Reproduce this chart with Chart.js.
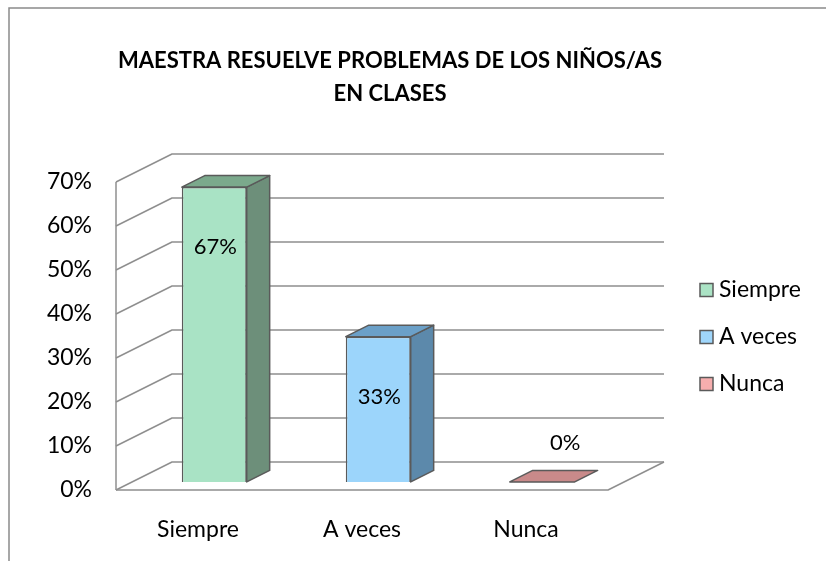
<!DOCTYPE html>
<html>
<head>
<meta charset="utf-8">
<script src="https://cdn.jsdelivr.net/npm/chart.js@4"></script>
<style>
html, body { margin: 0; padding: 0; background: #fff; }
</style>
</head>
<body>
<canvas id="chart" width="826" height="561"></canvas>
<script>
// data
const titleLines = ['MAESTRA RESUELVE PROBLEMAS DE LOS NIÑOS/AS', 'EN CLASES'];
const categories = ['Siempre', 'A veces', 'Nunca'];
const values = [67, 33, 0];
const yMax = 70;
const yStep = 10;

// colours per category
const frontColors = ['#a9e3c5', '#9cd5fb', '#d99a9a'];
const sideColors = ['#6d8f7a', '#5c89ab', '#b07474'];
const topColors = ['#7ba98c', '#6ba0c8', '#c98a8a'];
const legendColors = ['#abe3c5', '#9fd6fb', '#f6aeae'];

const FONT = 'Lato, "Open Sans", sans-serif';
const wall = { dx: 56, dy: -28 };      // depth of the floor / back wall
const barFront = 0.29;                 // bar front face position in depth
const barDepth = 0.41;                 // bar thickness in depth
const edge = '#5a5a5a';
const gridColor = '#8f8f8f';

const threeD = {
    id: 'threeD',
    beforeDraw(chart) {
        const ctx = chart.ctx;
        ctx.save();
        ctx.fillStyle = '#fff';
        ctx.fillRect(0, 0, chart.width, chart.height);
        // outer frame
        ctx.strokeStyle = '#8a8a8a';
        ctx.lineWidth = 1.5;
        ctx.strokeRect(9, 8, 1000, 1000);
        // title
        ctx.fillStyle = '#000';
        ctx.font = 'bold 22px ' + FONT;
        ctx.textAlign = 'center';
        ctx.textBaseline = 'middle';
        titleLines.forEach((t, i) => ctx.fillText(t, 390, 61 + i * 33));
        ctx.restore();
    },
    beforeDatasetsDraw(chart) {
        const ctx = chart.ctx;
        const a = chart.chartArea;
        const y = chart.scales.y;
        ctx.save();
        ctx.strokeStyle = gridColor;
        ctx.lineWidth = 1.5;
        ctx.lineJoin = 'round';
        // floor
        ctx.beginPath();
        ctx.moveTo(a.left, a.bottom);
        ctx.lineTo(a.right, a.bottom);
        ctx.lineTo(a.right + wall.dx, a.bottom + wall.dy);
        ctx.stroke();
        // left wall front edge
        ctx.beginPath();
        ctx.moveTo(a.left, a.bottom);
        ctx.lineTo(a.left, a.top);
        ctx.stroke();
        // grid lines on side and back wall
        y.ticks.forEach(t => {
            const py = y.getPixelForValue(t.value);
            ctx.beginPath();
            ctx.moveTo(a.left, py);
            ctx.lineTo(a.left + wall.dx, py + wall.dy);
            ctx.lineTo(a.right + wall.dx, py + wall.dy);
            ctx.stroke();
        });
        ctx.restore();
        // push bars back into the box
        ctx.save();
        ctx.translate(wall.dx * barFront, wall.dy * barFront);
    },
    afterDatasetsDraw(chart) {
        const ctx = chart.ctx;
        const ddx = wall.dx * barDepth, ddy = wall.dy * barDepth;
        const meta = chart.getDatasetMeta(0);
        ctx.lineWidth = 1.5;
        ctx.strokeStyle = edge;
        ctx.lineJoin = 'round';
        meta.data.forEach((bar, i) => {
            const p = bar.getProps(['x', 'y', 'base', 'width'], true);
            const l = p.x - p.width / 2, r = p.x + p.width / 2;
            // side face
            if (p.base - p.y > 0.5) {
                ctx.beginPath();
                ctx.moveTo(r, p.base);
                ctx.lineTo(r + ddx, p.base + ddy);
                ctx.lineTo(r + ddx, p.y + ddy);
                ctx.lineTo(r, p.y);
                ctx.closePath();
                ctx.fillStyle = sideColors[i];
                ctx.fill();
                ctx.stroke();
            }
            // top face
            ctx.beginPath();
            ctx.moveTo(l, p.y);
            ctx.lineTo(r, p.y);
            ctx.lineTo(r + ddx, p.y + ddy);
            ctx.lineTo(l + ddx, p.y + ddy);
            ctx.closePath();
            ctx.fillStyle = topColors[i];
            ctx.fill();
            ctx.stroke();
            // value label
            ctx.fillStyle = '#000';
            ctx.font = '22px ' + FONT;
            ctx.textAlign = 'center';
            ctx.textBaseline = 'middle';
            if (p.base - p.y > 0.5) {
                ctx.fillText(values[i] + '%', p.x + 1, p.y + 60);
            } else {
                ctx.fillText(values[i] + '%', p.x + ddx, p.y - 39);
            }
        });
        ctx.restore();

        // legend
        ctx.save();
        ctx.font = '23px ' + FONT;
        ctx.textBaseline = 'middle';
        ctx.textAlign = 'left';
        categories.forEach((c, i) => {
            const cy = 290 + i * 47;
            ctx.fillStyle = legendColors[i];
            ctx.fillRect(700, cy - 6.5, 13, 13);
            ctx.strokeStyle = edge;
            ctx.lineWidth = 1.5;
            ctx.strokeRect(700, cy - 6.5, 13, 13);
            ctx.fillStyle = '#000';
            ctx.fillText(c, 719, cy);
        });
        ctx.restore();
    }
};

new Chart(document.getElementById('chart'), {
    type: 'bar',
    data: {
        labels: categories,
        datasets: [{
            data: values,
            backgroundColor: frontColors,
            borderColor: edge,
            borderWidth: 1.5,
            barPercentage: 1,
            categoryPercentage: 0.396,
            clip: false
        }]
    },
    options: {
        responsive: false,
        animation: false,
        layout: { padding: { top: 182, right: 218, bottom: 0, left: 0 } },
        plugins: {
            legend: { display: false },
            title: { display: false },
            tooltip: { enabled: false }
        },
        scales: {
            x: {
                grid: { display: false, drawTicks: false },
                border: { display: false },
                ticks: { color: '#000', font: { family: FONT, size: 23 }, padding: 26 },
                afterFit(s) { s.height = 71; }
            },
            y: {
                min: 0,
                max: yMax,
                grid: { display: false, drawTicks: false },
                border: { display: false },
                ticks: {
                    stepSize: yStep,
                    color: '#000',
                    font: { family: FONT, size: 23 },
                    padding: 24,
                    callback: v => v + '%'
                },
                afterFit(s) { s.width = 116; }
            }
        }
    },
    plugins: [threeD]
});
</script>
</body>
</html>
